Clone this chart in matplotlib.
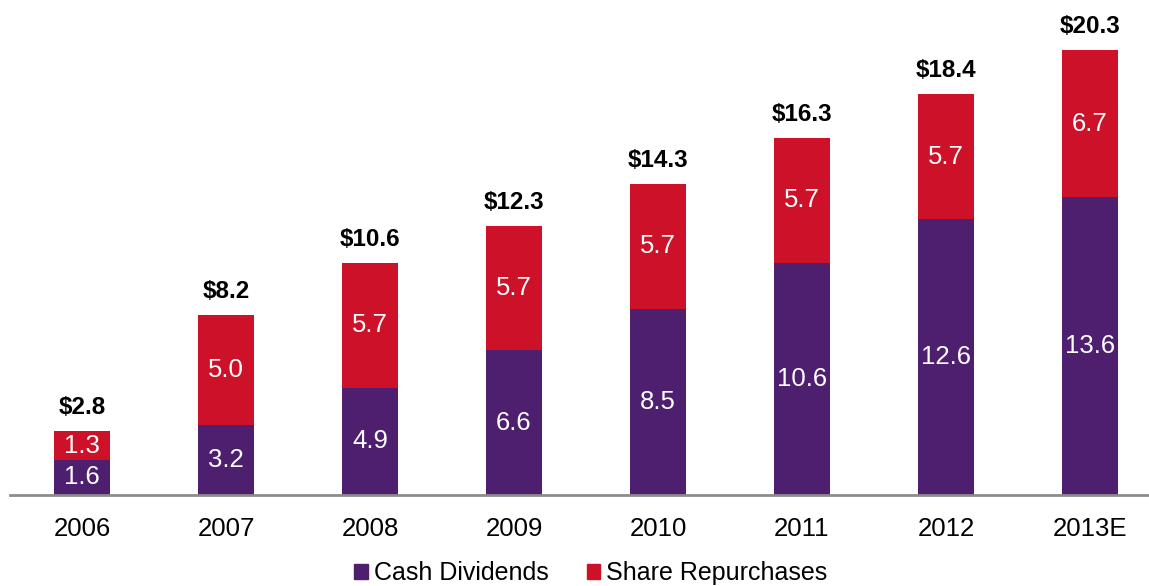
import matplotlib.pyplot as plt
from matplotlib.patches import Patch

plt.rcParams['font.family'] = ['Liberation Sans', 'DejaVu Sans']

years = ["2006", "2007", "2008", "2009", "2010", "2011", "2012", "2013E"]
dividends = [1.6, 3.2, 4.9, 6.6, 8.5, 10.6, 12.6, 13.6]
repurchases = [1.3, 5.0, 5.7, 5.7, 5.7, 5.7, 5.7, 6.7]
totals = [2.8, 8.2, 10.6, 12.3, 14.3, 16.3, 18.4, 20.3]

purple = "#4D1F6E"
red = "#CC1128"

fig = plt.figure(figsize=(11.49, 5.86), dpi=100)
ax = fig.add_axes([10 / 1149, 91 / 586, 1139 / 1149, 495 / 586])

x = list(range(len(years)))
w = 0.395
ax.bar(x, dividends, w, color=purple)
ax.bar(x, repurchases, w, bottom=dividends, color=red)

for i in x:
    ax.text(i, dividends[i] / 2, f"{dividends[i]:.1f}", ha="center", va="center",
            color="white", fontsize=18.5)
    ax.text(i, dividends[i] + repurchases[i] / 2, f"{repurchases[i]:.1f}",
            ha="center", va="center", color="white", fontsize=18.5)
    ax.text(i, dividends[i] + repurchases[i] + 0.55, f"${totals[i]:.1f}",
            ha="center", va="bottom", fontsize=17.5, fontweight="bold")

ax.set_xlim(-0.5, 7.41)
ax.set_ylim(0, 22.6)
ax.set_xticks(x)
ax.set_xticklabels(years, fontsize=18.5)
ax.tick_params(axis="x", length=0, pad=16)
ax.set_yticks([])
for s in ["top", "right", "left"]:
    ax.spines[s].set_visible(False)
ax.spines["bottom"].set_color("#8C8C8C")
ax.spines["bottom"].set_linewidth(2)

handles = [Patch(color=purple, label="Cash Dividends"),
           Patch(color=red, label="Share Repurchases")]
fig.legend(handles=handles, loc="center", bbox_to_anchor=(591 / 1149, 1 - 573 / 586),
           ncol=2, frameon=False, fontsize=18, handlelength=0.55, handleheight=0.55,
           handletextpad=0.25, columnspacing=1.5)

fig.savefig("out.png", dpi=100)
